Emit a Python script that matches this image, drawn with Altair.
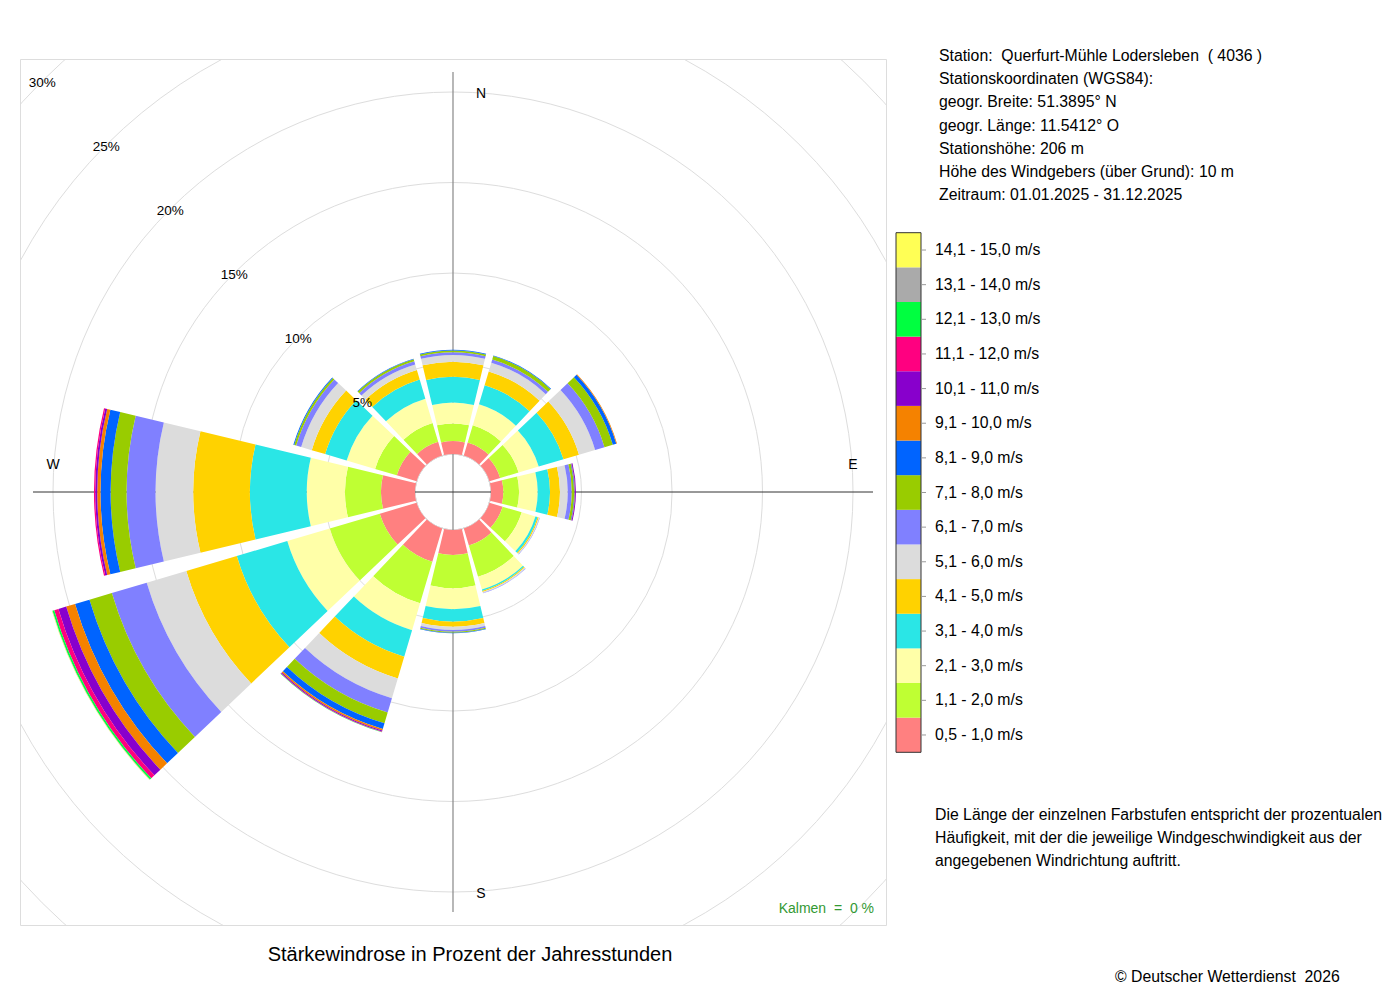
import math
import pandas as pd
import altair as alt

FONT = "Liberation Sans"

# ---- data -------------------------------------------------------------
directions = [0, 30, 60, 90, 120, 150, 180, 210, 240, 270, 300, 330]

classes = ["0,5 - 1,0 m/s", "1,1 - 2,0 m/s", "2,1 - 3,0 m/s", "3,1 - 4,0 m/s",
           "4,1 - 5,0 m/s", "5,1 - 6,0 m/s", "6,1 - 7,0 m/s", "7,1 - 8,0 m/s",
           "8,1 - 9,0 m/s", "9,1 - 10,0 m/s", "10,1 - 11,0 m/s", "11,1 - 12,0 m/s",
           "12,1 - 13,0 m/s", "13,1 - 14,0 m/s", "14,1 - 15,0 m/s"]
colors = ["#FF8080", "#BFFF33", "#FFFFA8", "#2AE6E6", "#FFD200", "#DCDCDC",
          "#8080FF", "#99CC00", "#0064FF", "#F58200", "#8800CC", "#FF0080",
          "#00FF40", "#AAAAAA", "#FFFF55"]

# percent of hours per speed class, per direction sector
sec_N   = [0.72, 0.97, 1.15, 1.43, 0.83, 0.37, 0.15, 0.09, 0.04]
sec_NNE = [0.75, 1.00, 1.20, 1.10, 0.80, 0.50, 0.18, 0.20, 0.04]
sec_ENE = [0.62, 1.06, 1.16, 1.43, 0.89, 0.93, 0.54, 0.48, 0.20, 0.04]
sec_E   = [0.68, 0.87, 1.03, 0.68, 0.55, 0.43, 0.22, 0.13, 0.03, 0.02, 0.05]
sec_ESE = [0.76, 1.10, 0.79, 0.13, 0.06, 0.05, 0.02]
sec_SSE = [0.99, 1.79, 0.74, 0.08, 0.06, 0.06, 0.02]
sec_S   = [1.38, 1.84, 1.16, 0.68, 0.28, 0.18, 0.10, 0.05, 0.03]
sec_SSW = [1.92, 2.39, 1.55, 1.53, 1.25, 1.14, 0.83, 0.62, 0.33, 0.08, 0.06, 0.03, 0.02]
sec_WSW = [2.12, 2.88, 2.45, 2.91, 2.91, 2.28, 2.01, 1.29, 0.83, 0.51, 0.45, 0.24, 0.10, 0.02, 0.02]
sec_W   = [1.88, 1.99, 2.11, 3.14, 3.13, 2.08, 1.60, 0.88, 0.56, 0.18, 0.11, 0.07]
sec_WNW = [1.14, 1.25, 1.64, 1.24, 0.77, 0.61, 0.29, 0.11, 0.05]
sec_NNW = [0.79, 1.09, 1.40, 1.10, 0.55, 0.32, 0.18, 0.12, 0.03]

sectors = [sec_N, sec_NNE, sec_ENE, sec_E, sec_ESE, sec_SSE,
           sec_S, sec_SSW, sec_WSW, sec_W, sec_WNW, sec_NNW]

ring_pcts = [0, 5, 10, 15, 20, 25, 30]
ring_labels = ["5%", "10%", "15%", "20%", "25%", "30%"]
half_width = 13.5  # half angular width of each sector (degrees)

station_lines = [
    "Station:\u00a0 Querfurt-Mühle Lodersleben\u00a0 ( 4036 )",
    "Stationskoordinaten (WGS84):",
    "geogr. Breite: 51.3895° N",
    "geogr. Länge: 11.5412° O",
    "Stationshöhe: 206 m",
    "Höhe des Windgebers (über Grund): 10 m",
    "Zeitraum: 01.01.2025 - 31.12.2025",
]
desc_lines = [
    "Die Länge der einzelnen Farbstufen entspricht der prozentualen",
    "Häufigkeit, mit der die jeweilige Windgeschwindigkeit aus der",
    "angegebenen Windrichtung auftritt.",
]

# ---- tables -------------------------------------------------------------
rows = []
for d, vals in zip(directions, sectors):
    cum = 0.0
    for cls, v in zip(classes, vals):
        rows.append({"dir": d, "cls": cls, "t0": d - half_width, "t1": d + half_width,
                     "r0": cum, "r1": cum + v})
        cum += v
bars = pd.DataFrame(rows)

rings = pd.DataFrame({"pct": ring_pcts, "t0": [0] * len(ring_pcts), "t1": [360] * len(ring_pcts)})
ringlab = pd.DataFrame({"pct": ring_pcts[1:], "ang": [315] * 6, "txt": ring_labels})
dir_ns = pd.DataFrame({"lab": ["N", "S"], "ang": [0, 180], "pct": [20, 20]})
dir_ew = pd.DataFrame({"lab": ["E", "W"], "ang": [90, 270], "pct": [20, 20]})
leg = pd.DataFrame({"cls": classes})
one = pd.DataFrame({"k": [0]})

theta_scale = alt.Scale(domain=[0, 360], range=[0, 2 * math.pi])
r_scale = alt.Scale(type="linear", domain=[0, 30], range=[38, 38 + 18.1 * 30])
color_scale = alt.Scale(domain=classes, range=colors)

# ---- polar layers ------------------------------------------------------
ring_layer = alt.Chart(rings).mark_arc(filled=False, stroke="#DDDDDD", strokeWidth=1, clip=True).encode(
    theta=alt.Theta("t0:Q", scale=theta_scale, stack=False),
    theta2="t1:Q",
    radius=alt.Radius("pct:Q", scale=r_scale, stack=False),
)

vline = alt.Chart(one).mark_rule(color="#888888", strokeWidth=1.2).encode(
    x=alt.value(433), y=alt.value(13), y2=alt.value(853))
hline = alt.Chart(one).mark_rule(color="#333333", strokeWidth=1).encode(
    x=alt.value(13), x2=alt.value(853), y=alt.value(433))

bar_layer = alt.Chart(bars).mark_arc(clip=True).encode(
    theta=alt.Theta("t0:Q", scale=theta_scale, stack=False),
    theta2="t1:Q",
    radius=alt.Radius("r1:Q", scale=r_scale, stack=False),
    radius2="r0:Q",
    color=alt.Color("cls:N", scale=color_scale, legend=None),
)

ringlab_layer = alt.Chart(ringlab).mark_text(font=FONT, fontSize=13.5, color="black", dy=2).encode(
    theta=alt.Theta("ang:Q", scale=theta_scale, stack=False),
    radius=alt.Radius("pct:Q", scale=r_scale, stack=False),
    text="txt:N",
)
ns_layer = alt.Chart(dir_ns).mark_text(font=FONT, fontSize=14, color="black", dx=28, dy=1.5).encode(
    theta=alt.Theta("ang:Q", scale=theta_scale, stack=False),
    radius=alt.Radius("pct:Q", scale=r_scale, stack=False),
    text="lab:N",
)
ew_layer = alt.Chart(dir_ew).mark_text(font=FONT, fontSize=14, color="black", dy=-27.5).encode(
    theta=alt.Theta("ang:Q", scale=theta_scale, stack=False),
    radius=alt.Radius("pct:Q", scale=r_scale, stack=False),
    text="lab:N",
)

kalmen = alt.Chart(one).mark_text(font=FONT, fontSize=14, color="#339933", align="right",
                                  baseline="alphabetic").encode(
    x=alt.value(854), y=alt.value(854), text=alt.value("Kalmen\u00a0 =\u00a0 0 %"))

title = alt.Chart(one).mark_text(font=FONT, fontSize=20, color="black", align="center",
                                 baseline="alphabetic").encode(
    x=alt.value(450), y=alt.value(902), text=alt.value("Stärkewindrose in Prozent der Jahresstunden"))

# ---- legend -------------------------------------------------------------
LEG_TOP, LEG_BOT = 173.7, 693.3
y_leg = alt.Y("cls:N", scale=alt.Scale(domain=classes[::-1], range=[LEG_TOP, LEG_BOT],
                                        paddingInner=0, paddingOuter=0), axis=None)
leg_rect = alt.Chart(leg).mark_rect().encode(
    y=y_leg, x=alt.value(876), x2=alt.value(901),
    color=alt.Color("cls:N", scale=color_scale, legend=None))
leg_border = alt.Chart(one).mark_rect(filled=False, stroke="#333333", strokeWidth=1).encode(
    x=alt.value(876), x2=alt.value(901), y=alt.value(LEG_TOP), y2=alt.value(LEG_BOT))
leg_tick = alt.Chart(leg).mark_rule(color="#999999", strokeWidth=1).encode(
    y=y_leg, x=alt.value(901), x2=alt.value(906))
leg_text = alt.Chart(leg).mark_text(font=FONT, fontSize=15.8, color="black", align="left",
                                    baseline="middle").encode(
    y=y_leg, x=alt.value(915), text="cls:N")

# ---- side texts ----------------------------------------------------------
station = alt.Chart(one).mark_text(font=FONT, fontSize=15.8, color="black", align="left",
                                   baseline="alphabetic", lineHeight=23.2).encode(
    x=alt.value(919), y=alt.value(2), text=alt.value(station_lines))
desc = alt.Chart(one).mark_text(font=FONT, fontSize=15.8, color="black", align="left",
                                baseline="alphabetic", lineHeight=23.0).encode(
    x=alt.value(915), y=alt.value(761), text=alt.value(desc_lines))
copyright_ = alt.Chart(one).mark_text(font=FONT, fontSize=15.8, color="black", align="left",
                                      baseline="alphabetic").encode(
    x=alt.value(1095), y=alt.value(923), text=alt.value("© Deutscher Wetterdienst\u00a0 2026"))

chart = alt.layer(
    ring_layer, vline, hline, bar_layer, ringlab_layer, ns_layer, ew_layer,
    kalmen, title, leg_rect, leg_border, leg_tick, leg_text, station, desc, copyright_,
).properties(
    width=866, height=866,
    autosize=alt.AutoSizeParams(type="none"),
    padding={"left": 12, "top": 51, "right": 504, "bottom": 61},
).configure_view(stroke="#666666", strokeWidth=1).configure(font=FONT)

chart.save("out.html", embed_options={"renderer": "svg", "actions": False})
